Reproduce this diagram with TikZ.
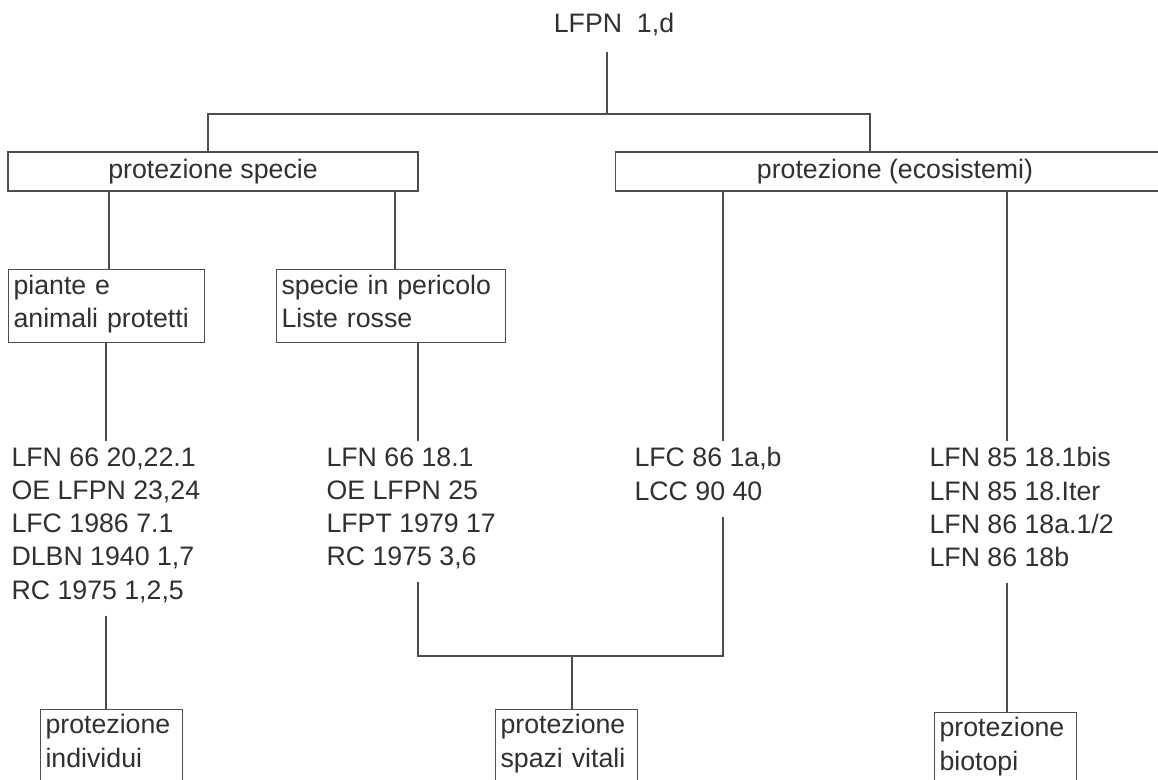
\documentclass[tikz,border=0pt]{standalone}
\usepackage{fontspec}
\setmainfont{Liberation Sans}
\definecolor{Rule}{HTML}{4D4D4D}
\definecolor{Type}{HTML}{303030}
\newcommand{\lawfont}{\fontsize{19pt}{23.6pt}\selectfont}

\begin{document}
\begin{tikzpicture}[x=0.025cm,y=-0.025cm,line width=0.8pt,every node/.style={text=Type,font=\lawfont},link/.style={draw=Rule},topic/.style={draw=Rule,inner sep=0pt,minimum height=0.975cm},group/.style={draw=Rule,anchor=north west,align=left,inner xsep=0.125cm,inner ysep=0pt,minimum height=1.825cm,execute at end node=\strut},laws/.style={anchor=north west,align=left,inner xsep=0pt,inner ysep=4.3pt,execute at end node=\strut},leaf/.style={draw=Rule,anchor=north west,align=left,inner xsep=0.125cm,inner ysep=3.5pt,text width=3.3cm}]
\path[use as bounding box] (0,0) rectangle (1158,780);\clip (0,0) rectangle (1158,780);\fill[white] (0,0) rectangle (1158,780);
\node[inner ysep=11pt,anchor=base] (lfpn) at (614,33) {LFPN\ \ 1,d};
\node[topic,minimum width=10.25cm] (spec) at (213,171.5) {protezione specie};\node[topic,minimum width=13.95cm] (eco) at (895,171.5) {protezione (ecosistemi)};
\node[group,text width=4.65cm] (piante) at (8,269) {piante e\\animali protetti};\node[group,text width=5.475cm] (peric) at (276,269) {specie in pericolo\\Liste rosse};
\node[laws] (laws1) at (11,441) {LFN 66 20,22.1\\OE LFPN 23,24\\LFC 1986 7.1\\DLBN 1940 1,7\\RC 1975 1,2,5};\node[laws] (laws2) at (326,441) {LFN 66 18.1\\OE LFPN 25\\LFPT 1979 17\\RC 1975 3,6};
\node[laws] (laws3) at (634,441) {LFC 86 1a,b\\LCC 90 40};\node[laws] (laws4) at (929,441) {LFN 85 18.1bis\\LFN 85 18.Iter\\LFN 86 18a.1/2\\LFN 86 18b};
\node[leaf] (indiv) at (40,709) {protezione\\individui\\\strut};\node[leaf] (spazi) at (495,709) {protezione\\spazi vitali\\\strut};\node[leaf] (biot) at (934,712) {protezione\\biotopi\\\strut};
\coordinate (fork) at (607,114);\coordinate (join) at (572,656);
\draw[link] (lfpn.south -| fork) -- (fork);\draw[link] (spec.north -| 208,0) |- (fork) -| (eco.north -| 870,0);
\draw[link] (spec.south -| 109,0) -- (piante.north -| 109,0);\draw[link] (spec.south -| 395,0) -- (peric.north -| 395,0);
\draw[link] (eco.south -| 723,0) -- (laws3.north -| 723,0);\draw[link] (eco.south -| 1007,0) -- (laws4.north -| 1007,0);
\draw[link] (piante.south -| 106,0) -- (laws1.north -| 106,0);\draw[link] (peric.south -| 418,0) -- (laws2.north -| 418,0);
\draw[link] (laws1.south -| 106,0) -- (indiv.north -| 106,0);\draw[link] (laws2.south -| 418,0) |- (join) -| (laws3.south -| 723,0);
\draw[link] (join) -- (spazi.north -| join);\draw[link] (laws4.south -| 1007,0) -- (biot.north -| 1007,0);
\end{tikzpicture}
\end{document}
